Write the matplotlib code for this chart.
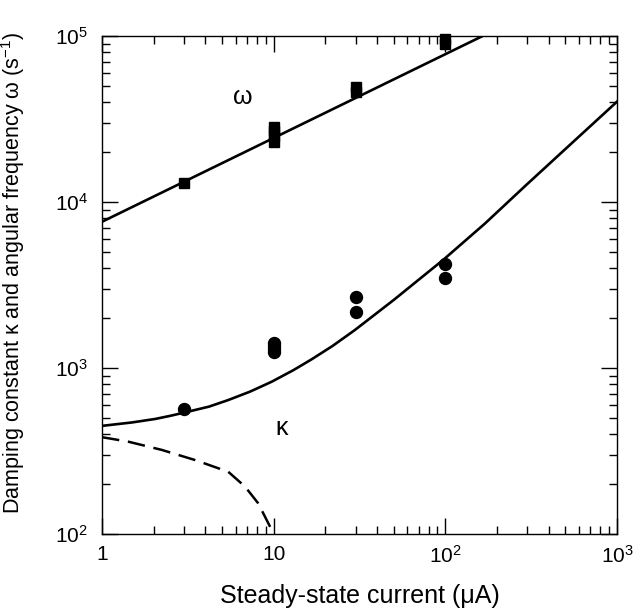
import matplotlib
matplotlib.use("Agg")
import matplotlib.pyplot as plt
from matplotlib.ticker import FixedLocator, FixedFormatter, LogLocator, NullFormatter

plt.rcParams['font.family'] = ['Liberation Sans', 'DejaVu Sans']
plt.rcParams['mathtext.default'] = 'regular'

# Measured data: angular frequency omega (squares)
omega_I = [3, 10, 10, 10, 10, 30, 30, 100, 100]
omega_v = [13000, 23000, 25000, 26800, 28300, 46000, 49300, 89500, 96000]

# Measured data: damping constant kappa (circles)
kappa_I = [3, 10, 10, 10, 10, 30, 30, 100, 100]
kappa_v = [566, 1245, 1300, 1360, 1420, 2170, 2670, 3470, 4240]

# Fitted omega line
omega_fit_I = [1, 165]
omega_fit_v = [7600, 100000]

# Fitted kappa curve
kappa_fit_I = [1, 1.5, 2.04, 2.5, 3, 4.2, 5.44, 7.3, 9.73, 13, 16.6, 22, 29.7, 50, 97.2, 170, 297, 550, 1000]
kappa_fit_v = [448, 470, 493, 515, 538, 585, 641, 721, 826, 969, 1126, 1356, 1692, 2567, 4480, 7410, 12700, 22800, 40200]

# Dashed component
dash_I = [1, 1.42, 2.23, 3.48, 5.44, 6.81, 8.13, 9.73, 10.0]
dash_v = [383, 360, 321, 279, 237, 193, 153, 106, 100]

x_ticks = [1, 10, 100, 1000]
x_ticklabels = ['1', '10', '$10^2$', '$10^3$']
y_ticks = [100, 1000, 10000, 100000]
y_ticklabels = ['$10^2$', '$10^3$', '$10^4$', '$10^5$']

fig = plt.figure(figsize=(6.37, 6.13), dpi=100)
ax = fig.add_axes([0.1601, 0.1289, 0.8085, 0.8124])
ax.set_xscale('log')
ax.set_yscale('log')
ax.set_xlim(1, 1000)
ax.set_ylim(100, 100000)

ax.plot(omega_fit_I, omega_fit_v, color='black', lw=1.9, solid_capstyle='butt')
ax.plot(kappa_fit_I, kappa_fit_v, color='black', lw=1.9, solid_joinstyle='round')
ax.plot(dash_I, dash_v, color='black', lw=1.8, dashes=(7, 3.5))

ax.plot(omega_I, omega_v, linestyle='none', marker='s', markersize=7.2,
        color='black', clip_on=False)
ax.plot(kappa_I, kappa_v, linestyle='none', marker='o', markersize=8.6,
        color='black', clip_on=False)

ax.text(6.6, 43000, 'ω', fontsize=18, ha='center', va='center')
ax.text(11.1, 434, 'κ', fontsize=18, ha='center', va='center')

ax.xaxis.set_major_locator(FixedLocator(x_ticks))
ax.xaxis.set_major_formatter(FixedFormatter(x_ticklabels))
ax.yaxis.set_major_locator(FixedLocator(y_ticks))
ax.yaxis.set_major_formatter(FixedFormatter(y_ticklabels))
ax.xaxis.set_minor_locator(LogLocator(base=10, subs=range(2, 10)))
ax.yaxis.set_minor_locator(LogLocator(base=10, subs=range(2, 10)))
ax.xaxis.set_minor_formatter(NullFormatter())
ax.yaxis.set_minor_formatter(NullFormatter())

ax.tick_params(which='both', direction='in', top=True, right=True, width=1.0,
               labelsize=15, colors='black')
ax.tick_params(which='major', length=11.5, pad=8)
ax.tick_params(axis='y', which='major', pad=10)
ax.tick_params(which='minor', length=5.8)
for s in ax.spines.values():
    s.set_linewidth(1.0)

ax.set_xlabel('Steady-state current (μA)', fontsize=18, labelpad=12)
ax.set_ylabel('Damping constant κ and angular frequency ω (s$^{-1}$)', fontsize=15.5)
ax.yaxis.set_label_coords(-0.145, 0.525)

fig.savefig('out.png', dpi=100)
